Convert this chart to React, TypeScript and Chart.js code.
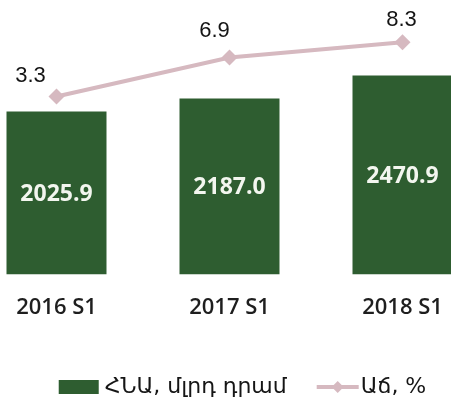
import React, { useEffect, useRef } from 'react';
import { Chart, registerables } from 'chart.js';

Chart.register(...registerables);

const categories = ['2016 S1', '2017 S1', '2018 S1'];
const gdpValues = [2025.9, 2187.0, 2470.9];
const growthValues = [3.3, 6.9, 8.3];
const gdpLabel = 'ՀՆԱ, մլրդ դրամ';
const growthLabel = 'Աճ, %';

const GREEN = '#2e5d30';
const PINK = '#d6b9c0';
const TEXT = '#151515';

const drawDiamond = (ctx: CanvasRenderingContext2D, x: number, y: number, r: number) => {
  ctx.beginPath();
  ctx.moveTo(x, y - r);
  ctx.lineTo(x + r, y);
  ctx.lineTo(x, y + r);
  ctx.lineTo(x - r, y);
  ctx.closePath();
  ctx.fill();
};

const labelsPlugin = {
  id: 'valueLabelsAndLegend',
  afterDatasetsDraw(chart: any) {
    const ctx: CanvasRenderingContext2D = chart.ctx;
    ctx.save();
    ctx.textAlign = 'center';
    ctx.textBaseline = 'middle';

    // values inside bars
    const barMeta = chart.getDatasetMeta(0);
    ctx.font = "700 23px 'Open Sans', 'DejaVu Sans', sans-serif";
    ctx.fillStyle = '#f3f6ef';
    barMeta.data.forEach((el: any, i: number) => {
      const p = el.getProps(['x', 'y', 'base'], true);
      ctx.fillText(gdpValues[i].toFixed(1), p.x, (p.y + p.base) / 2 + 1);
    });

    // values above line points
    const lineMeta = chart.getDatasetMeta(1);
    ctx.font = "400 22px 'Liberation Sans', Arial, sans-serif";
    ctx.fillStyle = TEXT;
    const offsets = [[-26, -21], [-15, -27], [-1, -22]];
    lineMeta.data.forEach((el: any, i: number) => {
      ctx.fillText(growthValues[i].toFixed(1), el.x + offsets[i][0], el.y + offsets[i][1]);
    });

    // legend
    const legendY = 387;
    ctx.font = "400 22px 'DejaVu Sans', 'Noto Sans', sans-serif";
    ctx.textAlign = 'left';
    const w1 = ctx.measureText(gdpLabel).width;
    const w2 = ctx.measureText(growthLabel).width;
    const boxW = 40, gapBox = 6, gapItems = 30, lineW = 42, gapLine = 2;
    const total = boxW + gapBox + w1 + gapItems + lineW + gapLine + w2;
    const center = (chart.chartArea.left + chart.chartArea.right) / 2 + 13;
    let x = center - total / 2;
    ctx.fillStyle = GREEN;
    ctx.fillRect(x, legendY - 7, boxW, 14);
    x += boxW + gapBox;
    ctx.fillStyle = TEXT;
    ctx.fillText(gdpLabel, x, legendY);
    x += w1 + gapItems;
    ctx.strokeStyle = PINK;
    ctx.lineWidth = 4;
    ctx.beginPath();
    ctx.moveTo(x, legendY);
    ctx.lineTo(x + lineW, legendY);
    ctx.stroke();
    ctx.fillStyle = PINK;
    drawDiamond(ctx, x + lineW / 2, legendY, 6);
    x += lineW + gapLine;
    ctx.fillStyle = TEXT;
    ctx.fillText(growthLabel, x, legendY);

    ctx.restore();
  },
};

export default function App() {
  const canvasRef = useRef<HTMLCanvasElement | null>(null);

  useEffect(() => {
    if (!canvasRef.current) return;
    const chart = new Chart(canvasRef.current, {
      type: 'bar',
      data: {
        labels: categories,
        datasets: [
          {
            type: 'bar',
            label: gdpLabel,
            data: gdpValues,
            backgroundColor: GREEN,
            borderWidth: 0,
            categoryPercentage: 1,
            barPercentage: 0.578,
            yAxisID: 'y',
            order: 2,
          },
          {
            type: 'line',
            label: growthLabel,
            data: growthValues,
            borderColor: PINK,
            backgroundColor: PINK,
            borderWidth: 4,
            pointStyle: 'rectRot',
            pointRadius: 8,
            pointBorderWidth: 0,
            pointBackgroundColor: PINK,
            yAxisID: 'y2',
            order: 1,
          } as any,
        ],
      },
      options: {
        animation: false,
        responsive: true,
        maintainAspectRatio: false,
        layout: { autoPadding: false, padding: { top: 33, bottom: 59, left: 0, right: 0 } },
        plugins: {
          legend: { display: false },
          tooltip: { enabled: false },
        },
        scales: {
          x: {
            offset: true,
            grid: { display: false, drawTicks: false },
            border: { display: false },
            ticks: {
              padding: 20,
              maxRotation: 0,
              color: '#1e1e1e',
              font: { family: "'Open Sans', sans-serif", size: 22, weight: '600' as any },
            },
          },
          y: {
            display: false,
            min: 0,
            max: 3000,
          },
          y2: {
            display: false,
            position: 'right',
            min: -13.15,
            max: 9.16,
          },
        },
      },
      plugins: [labelsPlugin],
    });
    return () => chart.destroy();
  }, []);

  return (
    <div style={{ position: 'absolute', left: 0, top: 0, width: 451, height: 400, overflow: 'hidden', background: '#fff' }}>
      <div style={{ position: 'absolute', left: -30, top: 0, width: 519, height: 400 }}>
        <canvas ref={canvasRef} />
      </div>
    </div>
  );
}
